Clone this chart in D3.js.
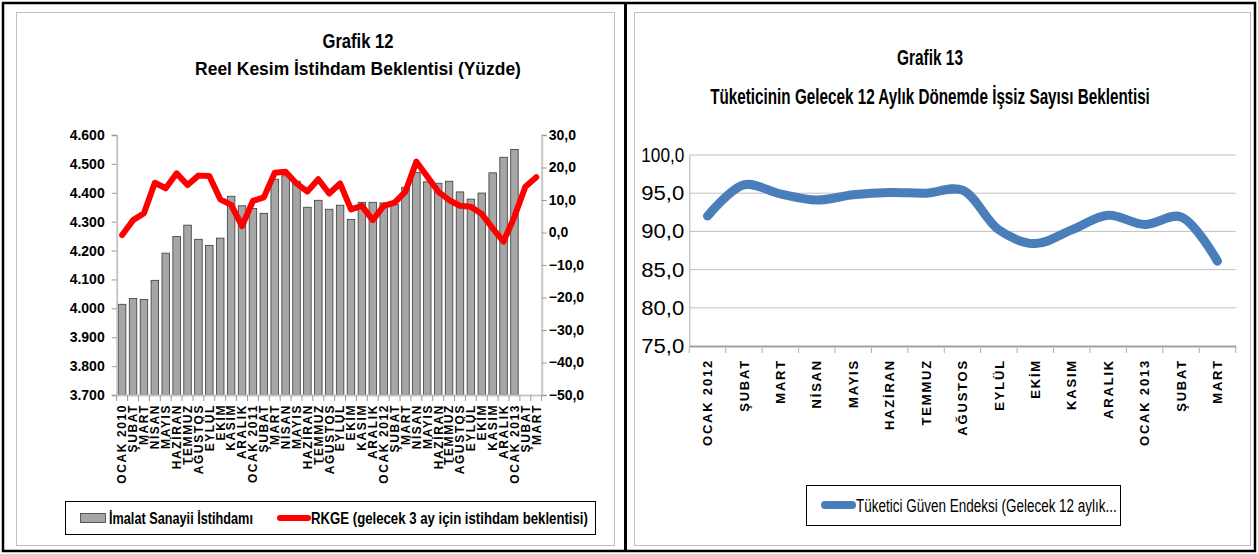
<!DOCTYPE html>
<html>
<head>
<meta charset="utf-8">
<script src="https://cdn.jsdelivr.net/npm/d3@7"></script>
<style>
    body { margin: 0; background: #fff; }
    text { font-family: "Liberation Sans", Arial, sans-serif; fill: #000; }
    .title { font-weight: bold; text-anchor: middle; }
    .tick-label { font-weight: bold; font-size: 14px; }
    .xl { font-weight: bold; }
</style>
</head>
<body>
<div id="chart"></div>
<script>
/************************************* Data *************************************/
// Grafik 12: Ocak 2010 - Mart 2013
const leftMonths = [
    "OCAK 2010", "ŞUBAT", "MART", "NİSAN", "MAYIS", "HAZİRAN", "TEMMUZ", "AĞUSTOS", "EYLÜL", "EKİM", "KASIM", "ARALIK",
    "OCAK 2011", "ŞUBAT", "MART", "NİSAN", "MAYIS", "HAZİRAN", "TEMMUZ", "AĞUSTOS", "EYLÜL", "EKİM", "KASIM", "ARALIK",
    "OCAK 2012", "ŞUBAT", "MART", "NİSAN", "MAYIS", "HAZİRAN", "TEMMUZ", "AĞUSTOS", "EYLÜL", "EKİM", "KASIM", "ARALIK",
    "OCAK 2013", "ŞUBAT", "MART"
];
// İmalat sanayii istihdamı (milyon kişi) - son iki ay boş
const imalat = [
    4.014, 4.034, 4.031, 4.097, 4.191, 4.249, 4.288, 4.239, 4.218, 4.243, 4.388, 4.355,
    4.346, 4.329, 4.447, 4.459, 4.440, 4.350, 4.374, 4.343, 4.357, 4.308, 4.367, 4.367,
    4.365, 4.360, 4.419, 4.471, 4.438, 4.433, 4.440, 4.403, 4.378, 4.399, 4.469, 4.523,
    4.550, null, null
];
// RKGE (gelecek 3 ay için istihdam beklentisi)
const rkge = [
    -0.8, 3.8, 5.9, 15.3, 13.6, 18.2, 14.6, 17.5, 17.4, 10.2, 8.5, 2.0,
    9.7, 10.8, 18.4, 18.7, 15.1, 12.6, 16.4, 12.0, 15.1, 7.1, 8.2, 3.8,
    8.2, 9.2, 12.6, 21.8, 17.2, 12.6, 10.0, 8.2, 7.9, 5.7, 1.3, -2.8,
    4.9, 14.1, 17.0
];
const leftTicks = [3.7, 3.8, 3.9, 4.0, 4.1, 4.2, 4.3, 4.4, 4.5, 4.6];
const rightTicks = [-50, -40, -30, -20, -10, 0, 10, 20, 30];

// Grafik 13: Ocak 2012 - Mart 2013
const rightMonths = ["OCAK 2012", "ŞUBAT", "MART", "NİSAN", "MAYIS", "HAZİRAN", "TEMMUZ", "AĞUSTOS", "EYLÜL", "EKİM", "KASIM", "ARALIK", "OCAK 2013", "ŞUBAT", "MART"];
const guven = [92.0, 96.1, 94.9, 94.1, 94.8, 95.1, 95.0, 95.4, 90.2, 88.4, 90.2, 92.1, 90.9, 91.9, 86.1];
const guvenTicks = [75, 80, 85, 90, 95, 100];

/************************************* Canvas *************************************/
const W = 1258, H = 554;
const svg = d3.select("#chart").append("svg")
    .attr("width", W)
    .attr("height", H);

svg.append("rect").attr("width", W).attr("height", H).attr("fill", "#fff");

// panel çerçeveleri
svg.append("rect").attr("x", 16.5).attr("y", 12.5).attr("width", 598).attr("height", 533)
    .attr("fill", "none").attr("stroke", "#bfbfbf");
svg.append("rect").attr("x", 634.5).attr("y", 12.5).attr("width", 616).attr("height", 533)
    .attr("fill", "none").attr("stroke", "#bfbfbf");
svg.append("rect").attr("x", 3).attr("y", 3).attr("width", W - 6).attr("height", H - 6)
    .attr("fill", "none").attr("stroke", "#000").attr("stroke-width", 2.5);
svg.append("line").attr("x1", 625.5).attr("x2", 625.5).attr("y1", 3).attr("y2", H - 3)
    .attr("stroke", "#000").attr("stroke-width", 3);

const commaFmt = function (v) { return d3.format(".1f")(v).replace(".", ","); };

// dar yazı tipi yok: metni yatayda ölçekleyerek verilen genişliğe getir
const narrow = function (sel, w) {
    sel.each(function () {
        const t = d3.select(this);
        const x = +t.attr("x") || 0, y = +t.attr("y") || 0;
        const sx = w / this.getComputedTextLength();
        t.attr("x", 0).attr("y", 0)
            .attr("transform", "translate(" + x + "," + y + ") scale(" + sx + ",1)");
    });
};

/************************************* Grafik 12 *************************************/
const g1 = svg.append("g");

g1.append("text").attr("class", "title").attr("x", 358).attr("y", 48)
    .style("font-size", "20px").text("Grafik 12").call(narrow, 71);
g1.append("text").attr("class", "title").attr("x", 358).attr("y", 75)
    .style("font-size", "19px").text("Reel Kesim İstihdam Beklentisi (Yüzde)").call(narrow, 326);

const x1 = d3.scaleBand()
    .domain(d3.range(leftMonths.length))
    .range([116.7, 541.7])
    .paddingInner(0.31)
    .paddingOuter(0.155);
const step1 = (541.7 - 116.7) / leftMonths.length;
const yL = d3.scaleLinear().domain([3.7, 4.6]).range([395, 135]);
const yR = d3.scaleLinear().domain([-50, 30]).range([395, 135]);

// barlar
g1.selectAll(".bar")
    .data(imalat.map(function (v, i) { return {i: i, v: v}; }).filter(function (d) { return d.v !== null; }))
    .enter()
    .append("rect")
    .attr("class", "bar")
    .attr("x", function (d) { return x1(d.i); })
    .attr("y", function (d) { return yL(d.v); })
    .attr("width", x1.bandwidth())
    .attr("height", function (d) { return yL(3.7) - yL(d.v); })
    .attr("fill", "#a6a6a6")
    .attr("stroke", "#3a3a3a")
    .attr("stroke-width", 0.8);

// eksenler
const axisL = g1.append("g")
    .attr("transform", "translate(116.7,0)")
    .call(d3.axisLeft(yL).tickValues(leftTicks).tickSize(5).tickFormat(d3.format(".3f")));
const axisR = g1.append("g")
    .attr("transform", "translate(541.7,0)")
    .call(d3.axisRight(yR).tickValues(rightTicks).tickSize(5).tickFormat(commaFmt));
const axisB = g1.append("g")
    .attr("transform", "translate(0,395)")
    .call(d3.axisBottom(x1).tickSize(0).tickFormat(function (i) { return leftMonths[i]; }));

[axisL, axisR, axisB].forEach(function (a) {
    a.select(".domain").attr("stroke", "#c8c8c8").attr("stroke-width", 2);
    a.selectAll(".tick line").attr("stroke", "#9a9a9a");
});
axisL.selectAll("text").attr("class", "tick-label").attr("x", -12).style("font-size", "14px");
axisR.selectAll("text").attr("class", "tick-label").attr("x", 7).style("font-size", "14px");
axisB.selectAll(".tick text")
    .attr("class", "xl")
    .attr("transform", "rotate(-90)")
    .attr("text-anchor", "end")
    .attr("x", -9)
    .attr("y", 0)
    .attr("dy", "0.36em")
    .style("font-size", "12px")
    .style("letter-spacing", "1.6px");

// kategori sınır çizgileri
axisB.selectAll(".sep")
    .data(d3.range(leftMonths.length + 1))
    .enter()
    .append("line")
    .attr("x1", function (i) { return 116.7 + i * step1; })
    .attr("x2", function (i) { return 116.7 + i * step1; })
    .attr("y1", 0)
    .attr("y2", 6)
    .attr("stroke", "#9a9a9a");

// RKGE çizgisi
const line1 = d3.line()
    .x(function (d, i) { return x1(i) + x1.bandwidth() / 2; })
    .y(function (d) { return yR(d); });
g1.append("path")
    .datum(rkge)
    .attr("d", line1)
    .attr("fill", "none")
    .attr("stroke", "#ff0000")
    .attr("stroke-width", 6)
    .attr("stroke-linejoin", "round")
    .attr("stroke-linecap", "round");

// legend
const lg1 = g1.append("g");
lg1.append("rect").attr("x", 65.5).attr("y", 501.5).attr("width", 530).attr("height", 33)
    .attr("fill", "#fff").attr("stroke", "#000");
lg1.append("rect").attr("x", 80.5).attr("y", 513.5).attr("width", 25).attr("height", 9)
    .attr("fill", "#a6a6a6").attr("stroke", "#3a3a3a").attr("stroke-width", 0.8);
lg1.append("text").attr("x", 109).attr("y", 524).attr("class", "tick-label").style("font-size", "16px")
    .text("İmalat Sanayii İstihdamı").call(narrow, 144);
lg1.append("line").attr("x1", 280).attr("x2", 308).attr("y1", 518).attr("y2", 518)
    .attr("stroke", "#ff0000").attr("stroke-width", 6).attr("stroke-linecap", "round");
lg1.append("text").attr("x", 311).attr("y", 524).attr("class", "tick-label").style("font-size", "16px")
    .text("RKGE (gelecek 3 ay için istihdam beklentisi)").call(narrow, 277);

/************************************* Grafik 13 *************************************/
const g2 = svg.append("g");

g2.append("text").attr("class", "title").attr("x", 930).attr("y", 65)
    .style("font-size", "22px").text("Grafik 13").call(narrow, 66);
g2.append("text").attr("class", "title").attr("x", 930).attr("y", 104)
    .style("font-size", "22px").text("Tüketicinin Gelecek 12 Aylık Dönemde İşsiz Sayısı Beklentisi").call(narrow, 440);

const x2 = d3.scaleBand()
    .domain(d3.range(rightMonths.length))
    .range([689.3, 1235.7]);
const y2 = d3.scaleLinear().domain([75, 100]).range([346, 155]);

// yatay ızgara
g2.selectAll(".grid")
    .data(guvenTicks.slice(1))
    .enter()
    .append("line")
    .attr("x1", 689.3)
    .attr("x2", 1235.7)
    .attr("y1", function (d) { return y2(d); })
    .attr("y2", function (d) { return y2(d); })
    .attr("stroke", "#c0c0c0")
    .attr("stroke-width", 1);

const axis2L = g2.append("g")
    .attr("transform", "translate(689.3,0)")
    .call(d3.axisLeft(y2).tickValues(guvenTicks).tickSize(0).tickFormat(commaFmt));
axis2L.select(".domain").attr("stroke", "#c8c8c8").attr("stroke-width", 1.5);
axis2L.selectAll("text").attr("x", -5).style("font-size", "20px")
    .attr("textLength", 43).attr("lengthAdjust", "spacingAndGlyphs");

const axis2B = g2.append("g")
    .attr("transform", "translate(0,346)")
    .call(d3.axisBottom(x2).tickSize(0).tickFormat(function (i) { return rightMonths[i]; }));
axis2B.select(".domain").attr("stroke", "#a0a0a0").attr("stroke-width", 2);
axis2B.selectAll(".tick text")
    .attr("class", "xl")
    .attr("transform", "rotate(-90)")
    .attr("text-anchor", "end")
    .attr("x", -13)
    .attr("y", 0)
    .attr("dy", "0.36em")
    .style("font-size", "13px")
    .style("letter-spacing", "1.8px");
axis2B.selectAll(".sep")
    .data(d3.range(rightMonths.length + 1))
    .enter()
    .append("line")
    .attr("x1", function (i) { return 689.3 + i * x2.step(); })
    .attr("x2", function (i) { return 689.3 + i * x2.step(); })
    .attr("y1", 0)
    .attr("y2", 7)
    .attr("stroke", "#b0b0b0");

const line2 = d3.line()
    .x(function (d, i) { return x2(i) + x2.bandwidth() / 2; })
    .y(function (d) { return y2(d); })
    .curve(d3.curveCatmullRom.alpha(0.5));
g2.append("path")
    .datum(guven)
    .attr("d", line2)
    .attr("fill", "none")
    .attr("stroke", "#4a7ebb")
    .attr("stroke-width", 9)
    .attr("stroke-linecap", "round");

// legend
const lg2 = g2.append("g");
lg2.append("rect").attr("x", 806.5).attr("y", 485.5).attr("width", 314).attr("height", 40)
    .attr("fill", "#fff").attr("stroke", "#000");
lg2.append("line").attr("x1", 825).attr("x2", 852).attr("y1", 505).attr("y2", 505)
    .attr("stroke", "#4a7ebb").attr("stroke-width", 8).attr("stroke-linecap", "round");
lg2.append("text").attr("x", 856).attr("y", 512).style("font-size", "19px")
    .text("Tüketici Güven Endeksi (Gelecek 12 aylık...").call(narrow, 261);
</script>
</body>
</html>
